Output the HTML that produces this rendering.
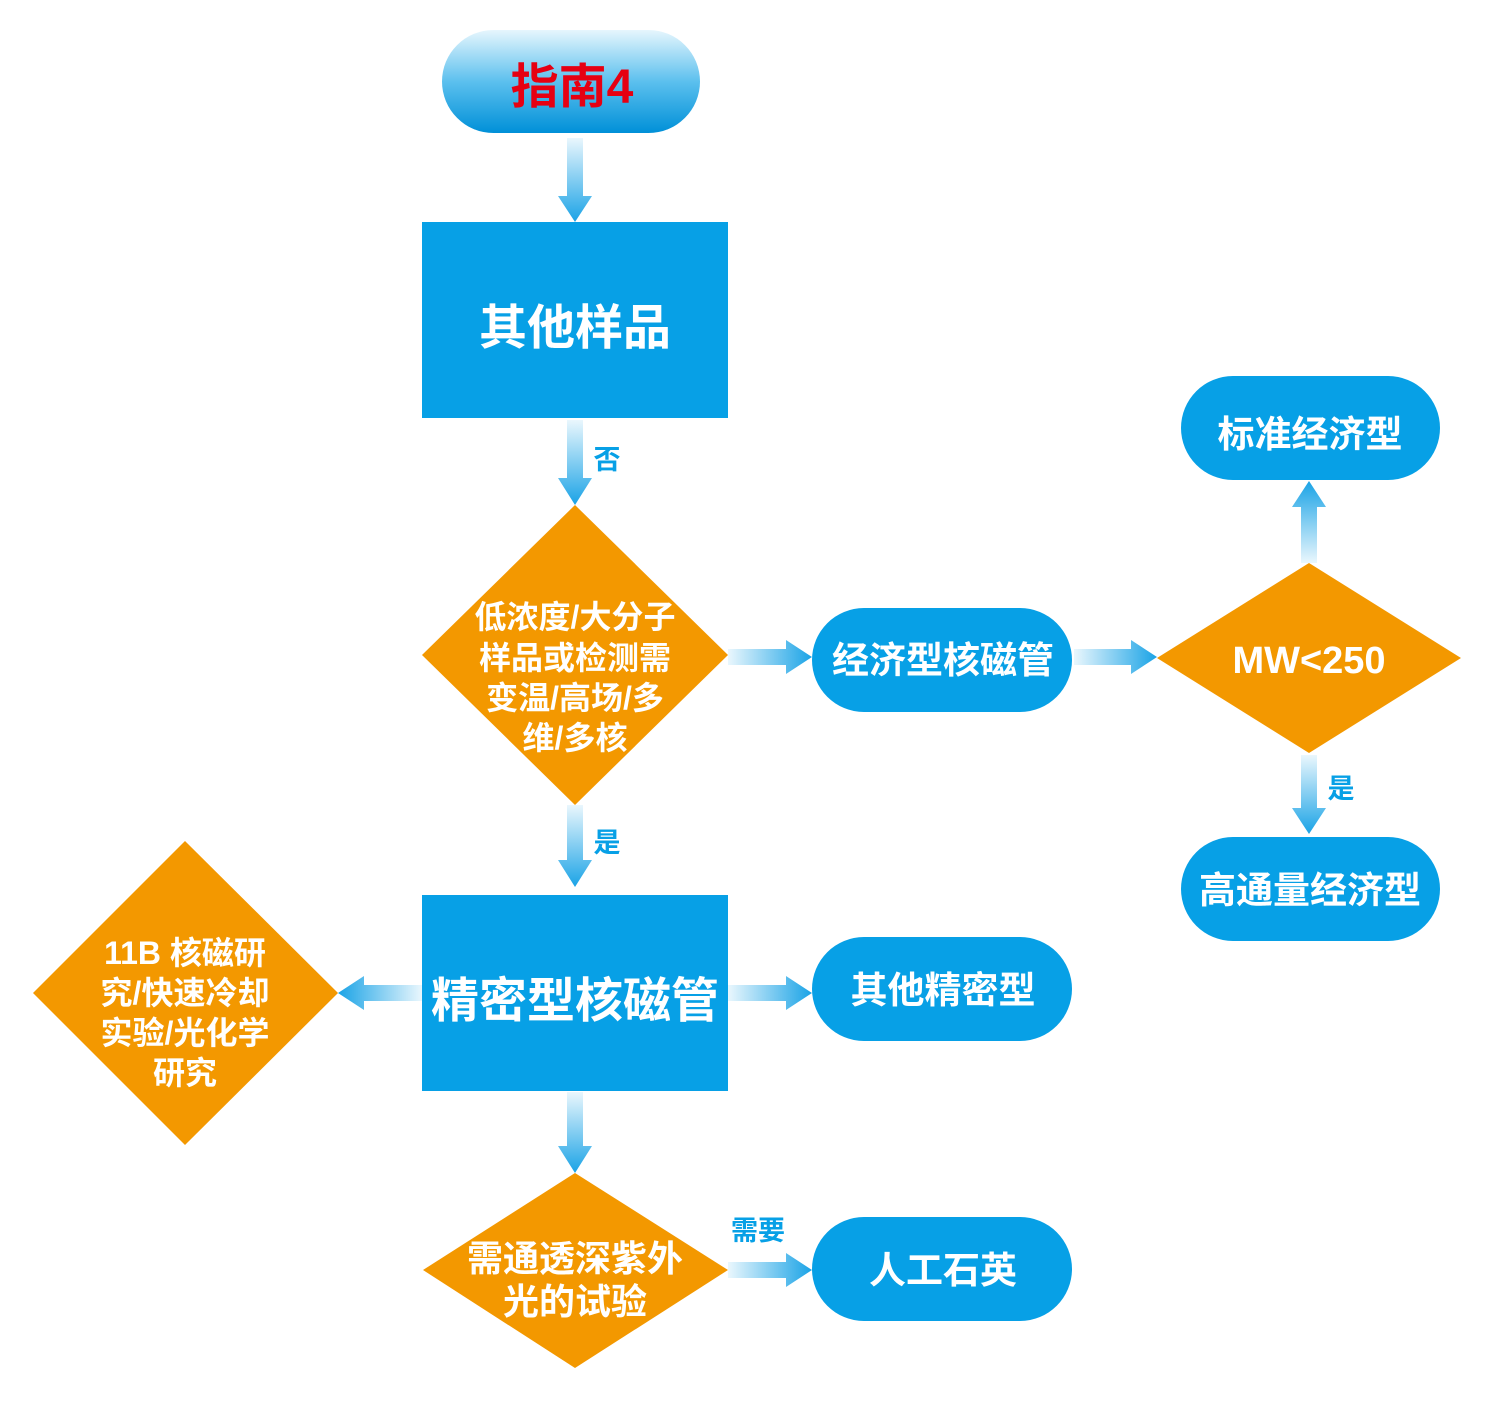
<!DOCTYPE html>
<html><head><meta charset="utf-8"><style>
html,body{margin:0;padding:0;background:#fff;}
text{font-family:"Liberation Sans","Noto Sans CJK SC",sans-serif;font-weight:bold;}
</style></head><body>
<svg width="1494" height="1416" viewBox="0 0 1494 1416" xmlns="http://www.w3.org/2000/svg">
<defs>
<linearGradient id="pill" x1="0" y1="0" x2="0" y2="1">
<stop offset="0" stop-color="#e6f6fd"/><stop offset="0.5" stop-color="#5cc0ee"/><stop offset="1" stop-color="#0090d8"/></linearGradient>
<linearGradient id="ad" x1="0" y1="0" x2="0" y2="1"><stop offset="0" stop-color="#eaf7fd"/><stop offset="1" stop-color="#1aa3e6"/></linearGradient>
<linearGradient id="au" x1="0" y1="1" x2="0" y2="0"><stop offset="0" stop-color="#eaf7fd"/><stop offset="1" stop-color="#1aa3e6"/></linearGradient>
<linearGradient id="ar" x1="0" y1="0" x2="1" y2="0"><stop offset="0" stop-color="#eaf7fd"/><stop offset="1" stop-color="#1aa3e6"/></linearGradient>
<linearGradient id="al" x1="1" y1="0" x2="0" y2="0"><stop offset="0" stop-color="#eaf7fd"/><stop offset="1" stop-color="#1aa3e6"/></linearGradient>
</defs>
<rect x="442" y="30" width="258" height="103" rx="51.5" fill="url(#pill)"/>
<text x="572" y="103" font-size="48" fill="#e60012" text-anchor="middle">指南4</text>
<g fill="url(#ad)">
<polygon points="567,138 583,138 583,196 592,196 575,222 558,196 567,196"/>
<polygon points="567,420 583,420 583,478 592,478 575,505 558,478 567,478"/>
<polygon points="567,805 583,805 583,860 592,860 575,887 558,860 567,860"/>
<polygon points="567,1092 583,1092 583,1146 592,1146 575,1173 558,1146 567,1146"/>
<polygon points="1301,755 1317,755 1317,808 1326,808 1309,834 1292,808 1301,808"/>
</g>
<polygon fill="url(#au)" points="1301,563 1317,563 1317,507 1326,507 1309,481 1292,507 1301,507"/>
<g fill="url(#ar)">
<polygon points="728,649 728,665 786,665 786,674 812,657 786,640 786,649"/>
<polygon points="1074,649 1074,665 1131,665 1131,674 1157,657 1131,640 1131,649"/>
<polygon points="728,985 728,1001 786,1001 786,1010 812,993 786,976 786,985"/>
<polygon points="728,1262 728,1278 786,1278 786,1287 812,1270 786,1253 786,1262"/>
</g>
<polygon fill="url(#al)" points="422,985 422,1001 364,1001 364,1010 338,993 364,976 364,985"/>
<rect x="422" y="222" width="306" height="196" fill="#07a0e6"/>
<text x="575" y="344" font-size="48" fill="#fff" text-anchor="middle">其他样品</text>
<rect x="422" y="895" width="306" height="196" fill="#07a0e6"/>
<text x="575" y="1017" font-size="48" fill="#fff" text-anchor="middle">精密型核磁管</text>
<g fill="#07a0e6">
<rect x="812" y="608" width="260" height="104" rx="52"/>
<rect x="1181" y="376" width="259" height="104" rx="52"/>
<rect x="1181" y="837" width="259" height="104" rx="52"/>
<rect x="812" y="937" width="260" height="104" rx="52"/>
<rect x="812" y="1217" width="260" height="104" rx="52"/>
</g>
<g fill="#fff" font-size="37" text-anchor="middle">
<text x="943" y="673">经济型核磁管</text>
<text x="1310" y="447">标准经济型</text>
<text x="1310" y="903">高通量经济型</text>
<text x="943" y="1003">其他精密型</text>
<text x="943" y="1283">人工石英</text>
</g>
<g fill="#f39800">
<polygon points="575,505 728,655 575,805 422,655"/>
<polygon points="1309,563 1461,658 1309,753 1157,658"/>
<polygon points="185,841 338,993 185,1145 33,993"/>
<polygon points="575,1173 728,1270 575,1368 423,1270"/>
</g>
<g fill="#fff" font-size="32" text-anchor="middle">
<text x="575" y="628">低浓度/大分子</text>
<text x="575" y="669">样品或检测需</text>
<text x="575" y="709">变温/高场/多</text>
<text x="575" y="749">维/多核</text>
<text x="1309" y="673" font-size="38">MW&lt;250</text>
<text x="185" y="964">11B 核磁研</text>
<text x="185" y="1004">究/快速冷却</text>
<text x="185" y="1044">实验/光化学</text>
<text x="185" y="1084">研究</text>
<text x="575" y="1271" font-size="36">需通透深紫外</text>
<text x="575" y="1314" font-size="36">光的试验</text>
</g>
<g fill="#07a0e6" font-size="27" text-anchor="middle">
<text x="607" y="469">否</text>
<text x="607" y="852">是</text>
<text x="1341" y="798">是</text>
<text x="758" y="1240">需要</text>
</g>
</svg>
</body></html>
